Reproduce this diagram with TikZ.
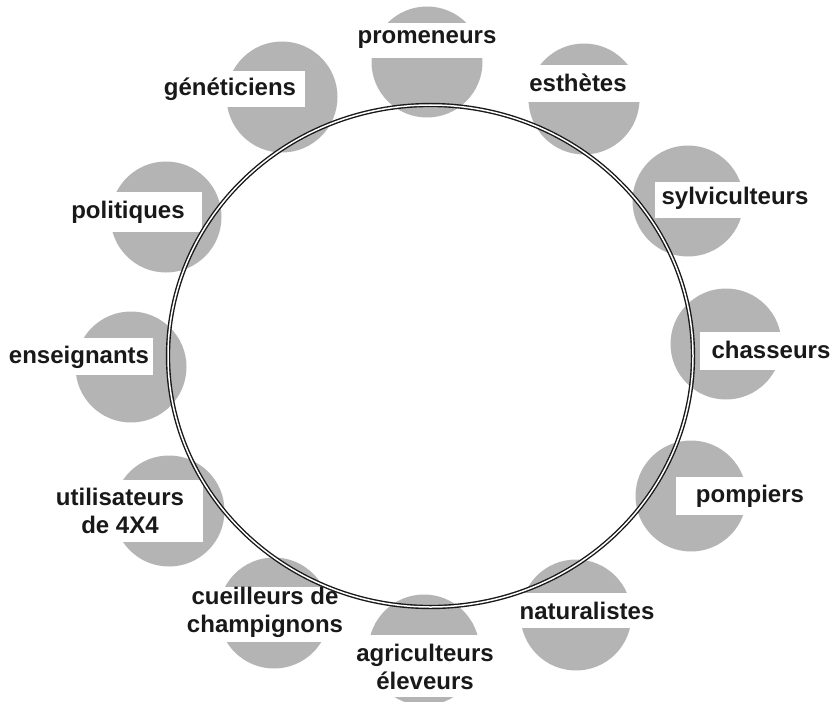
\documentclass[tikz,border=0pt]{standalone}
\usepackage{fontspec}
\setmainfont{Liberation Sans}
\definecolor{diskgray}{RGB}{180,180,180}
\definecolor{inkcol}{RGB}{25,25,25}
\begin{document}
\begin{tikzpicture}[x=1bp,y=-1bp,
  disk/.style={circle,fill=diskgray,minimum size=111bp,inner sep=0pt,draw=none},
  band/.style={fill=white},
  lbl/.style={inner sep=0pt,text=inkcol,font=\fontsize{24bp}{28bp}\selectfont\bfseries,align=center},
  ring/.style={draw=black!90,line width=1.4bp,double=white,double distance=1.5bp}]
\useasboundingbox (0,0) rectangle (831,702);
% disks
\node[disk] (d1) at (427,62) {};
\node[disk] (d2) at (584,99) {};
\node[disk] (d3) at (282,97) {};
\node[disk] (d4) at (166,217) {};
\node[disk] (d5) at (131,367) {};
\node[disk] (d6) at (169,511) {};
\node[disk] (d7) at (274,613) {};
\node[disk] (d8) at (424,650) {};
\node[disk] (d9) at (576,615) {};
\node[disk] (d10) at (691,496) {};
\node[disk] (d11) at (726,344) {};
\node[disk] (d12) at (688,201) {};
% white bands
\fill[band] (360,23) rectangle (495,58);
\fill[band] (520,65) rectangle (645,102);
\fill[band] (160,71) rectangle (305,107);
\fill[band] (65,192) rectangle (202,232);
\fill[band] (0,338) rectangle (153,375);
\fill[band] (50,480) rectangle (203,542);
\fill[band] (185,587) rectangle (345,642);
\fill[band] (350,635) rectangle (500,697);
\fill[band] (515,593) rectangle (660,628);
\fill[band] (676,477) rectangle (810,515);
\fill[band] (700,332) rectangle (831,370);
\fill[band] (655,182) rectangle (815,218);
% labels
\node[lbl] (l1) at (427,40) {promeneurs};
\node[lbl] (l2) at (578,83) {esthètes};
\node[lbl] (l3) at (230,89) {généticiens};
\node[lbl] (l4) at (128,212) {politiques};
\node[lbl] (l5) at (79,357) {enseignants};
\node[lbl] (l6) at (120,511) {utilisateurs\\de 4X4};
\node[lbl] (l7) at (265,612) {cueilleurs de\\champignons};
\node[lbl] (l8) at (425,667) {agriculteurs\\éleveurs};
\node[lbl] (l9) at (587,611) {naturalistes};
\node[lbl] (l10) at (750,496) {pompiers};
\node[lbl] (l11) at (771,350) {chasseurs};
\node[lbl] (l12) at (735,198) {sylviculteurs};
% ring
\draw[ring] (430.5,356) ellipse [x radius=262.5, y radius=251];
\end{tikzpicture}
\end{document}
